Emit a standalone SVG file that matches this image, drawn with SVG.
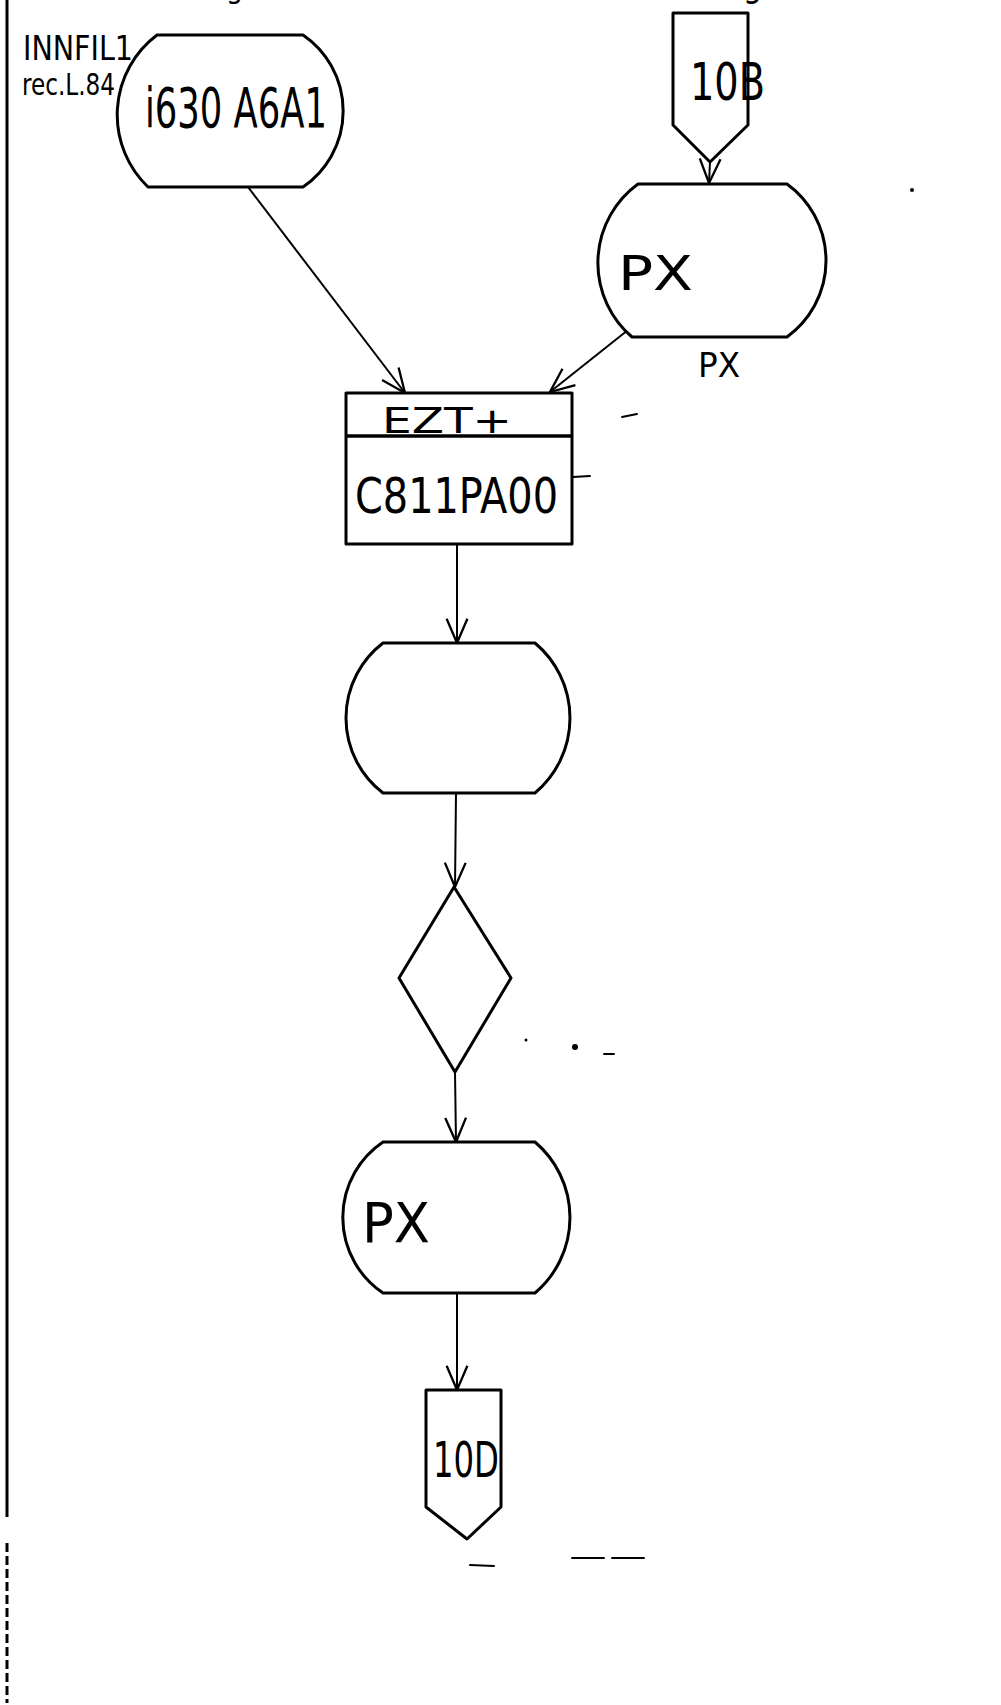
<svg xmlns="http://www.w3.org/2000/svg" width="1001" height="1705" viewBox="0 0 1001 1705">
<style>
.bg{fill:#ffffff}
.node{fill:#ffffff;stroke:#000000;stroke-width:3;stroke-linejoin:round}
.edge{fill:none;stroke:#000000;stroke-width:2}
.t{font-family:"Liberation Sans Narrow","DejaVu Sans Condensed","Liberation Sans",sans-serif;fill:#000000}
.speck{fill:none;stroke:#000000;stroke-width:2;stroke-linecap:round}
.dot{fill:#000000}
</style>
<defs>
<marker id="arr" markerUnits="userSpaceOnUse" markerWidth="30" markerHeight="30" viewBox="-24 -12 26 24" refX="0" refY="0" orient="auto">
<path d="M-21,-9 L0,0 L-21,9" fill="none" stroke="#000000" stroke-width="2"/>
</marker>
</defs>
<rect class="bg" x="0" y="0" width="1001" height="1705"/>

<g id="border">
<line x1="7" y1="0" x2="7" y2="1517" stroke="#000000" stroke-width="3"/>
<line x1="7" y1="1543" x2="7" y2="1703" stroke="#000000" stroke-width="3" stroke-dasharray="9,4"/>
</g>

<g id="fragments">
<text class="t" x="226" y="-2" font-size="30">g</text>
<text class="t" x="722" y="-3" font-size="36" textLength="40" lengthAdjust="spacingAndGlyphs">Cg</text>
</g>

<g id="connectors">
<line class="edge" x1="248" y1="187" x2="405" y2="393" marker-end="url(#arr)"/>
<line class="edge" x1="628" y1="330" x2="550" y2="392" marker-end="url(#arr)"/>
<line class="edge" x1="710" y1="162" x2="709" y2="183" marker-end="url(#arr)"/>
<line class="edge" x1="457" y1="545" x2="457" y2="643" marker-end="url(#arr)"/>
<line class="edge" x1="456" y1="793" x2="455" y2="887" marker-end="url(#arr)"/>
<line class="edge" x1="455" y1="1072" x2="456" y2="1142" marker-end="url(#arr)"/>
<line class="edge" x1="457" y1="1293" x2="457" y2="1390" marker-end="url(#arr)"/>
</g>

<g id="innfil-label">
<text class="t" x="23" y="60" font-size="34" textLength="110" lengthAdjust="spacingAndGlyphs">INNFIL1</text>
<text class="t" x="22" y="95" font-size="30" textLength="93" lengthAdjust="spacingAndGlyphs">rec.L.84</text>
</g>

<g id="node-i630">
<path class="node" d="M157,35 L303,35 A92,92 0 0 1 303,187 L148,187 A100,100 0 0 1 157,35 Z"/>
<text class="t" x="145" y="127" font-size="56" textLength="182" lengthAdjust="spacingAndGlyphs">i630 A6A1</text>
</g>

<g id="node-10B">
<path class="node" d="M673,13 L748,13 L748,125 L710,162 L673,125 Z"/>
<text class="t" x="690" y="100" font-size="52" textLength="75" lengthAdjust="spacingAndGlyphs">10B</text>
</g>

<g id="node-px1">
<path class="node" d="M638,184 L787,184 A94.5,94.5 0 0 1 787,337 L632,337 A97.6,97.6 0 0 1 638,184 Z"/>
<text class="t" x="618" y="290" font-size="48" textLength="75" lengthAdjust="spacingAndGlyphs">PX</text>
<text class="t" x="698" y="377" font-size="34" textLength="42" lengthAdjust="spacingAndGlyphs">PX</text>
</g>

<g id="node-ezt">
<rect class="node" x="346" y="393" width="226" height="151"/>
<line x1="346" y1="436" x2="572" y2="436" stroke="#000000" stroke-width="3.5"/>
<text class="t" x="382" y="433" font-size="35" textLength="130" lengthAdjust="spacingAndGlyphs">EZT+</text>
<text class="t" x="355" y="513" font-size="50" textLength="203" lengthAdjust="spacingAndGlyphs">C811PA00</text>
</g>

<g id="node-empty">
<path class="node" d="M383,643 L535,643 A97.9,97.9 0 0 1 535,793 L383,793 A94.5,94.5 0 0 1 383,643 Z"/>
</g>

<g id="node-diamond">
<path class="node" d="M454,887 L511,978 L455,1072 L399,978 Z"/>
</g>

<g id="node-px2">
<path class="node" d="M383,1142 L535,1142 A99,99 0 0 1 535,1293 L383,1293 A91,91 0 0 1 383,1142 Z"/>
<text class="t" x="362" y="1242" font-size="56" textLength="68" lengthAdjust="spacingAndGlyphs">PX</text>
</g>

<g id="node-10D">
<path class="node" d="M426,1390 L501,1390 L501,1507 L467,1539 L426,1507 Z"/>
<text class="t" x="433" y="1477" font-size="50" textLength="66" lengthAdjust="spacingAndGlyphs">10D</text>
</g>

<g id="specks">
<circle class="dot" cx="912" cy="190" r="2"/>
<circle class="dot" cx="575" cy="1047" r="3"/>
<circle class="dot" cx="526" cy="1040" r="1.5"/>
<path class="speck" d="M622,417 L637,414"/>
<path class="speck" d="M573,477 L590,476"/>
<path class="speck" d="M470,1565 L494,1566"/>
<path class="speck" d="M572,1558 L604,1558 M612,1558 L644,1558"/>
<path class="speck" d="M604,1054 L614,1054"/>
</g>
</svg>
